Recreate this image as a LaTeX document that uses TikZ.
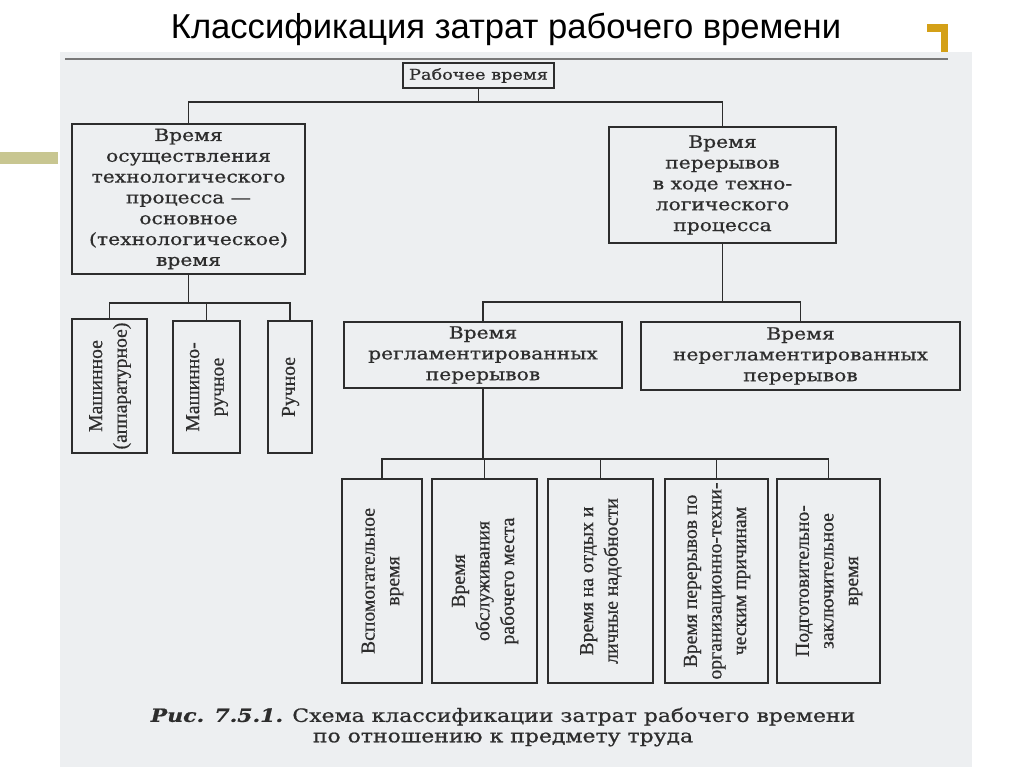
\documentclass[tikz,border=0pt]{standalone}
\usepackage{fontspec}
\usepackage{graphicx}
\setmainfont[FakeBold=0.6]{Liberation Serif}
\newfontfamily\titlefont{Liberation Sans}
\newfontfamily\schemefont[FakeStretch=1.2,FakeBold=0.8]{DejaVu Serif}
\usetikzlibrary{positioning,calc}
\definecolor{paper}{RGB}{237,239,241}
\definecolor{ink}{RGB}{45,45,45}
\definecolor{gold}{RGB}{212,160,23}
\definecolor{khaki}{RGB}{200,198,145}
\definecolor{rulegray}{RGB}{120,120,120}
\tikzset{
  sz/.style 2 args={minimum width=#1*0.025cm,minimum height=#2*0.025cm},
  tree/.style={draw=ink,line width=1.3pt},
  hbox/.style={draw=ink,line width=1.3pt,text=ink,align=center,inner sep=0pt,
    font=\schemefont\fontsize{12}{14.8}\selectfont},
  vbox/.style={draw=ink,line width=1.3pt,text=ink,inner sep=0pt,
    font=\fontsize{14}{17.5}\selectfont},
}
\newcommand{\vtext}[1]{\rotatebox{90}{\begin{tabular}{@{}c@{}}#1\end{tabular}}}

\begin{document}
\begin{tikzpicture}[x=0.025cm,y=-0.025cm]
  \useasboundingbox (0,0) rectangle (1024,767);
  % slide and scanned page
  \fill[white] (0,0) rectangle (1024,767);
  \fill[paper] (60,52) rectangle (972,767);
  \draw[rulegray,line width=1.2pt] (65,59) -- (948,59);
  \fill[gold] (927,24) rectangle (948,32);
  \fill[gold] (941,24) rectangle (948,52);
  \fill[khaki] (0,152) rectangle (58,164);
  \node[font=\titlefont\fontsize{24.6}{28}\selectfont] (title) at (506,29)
    {Классификация затрат рабочего времени};

  % upper levels
  \node[hbox,sz={151}{25},font=\schemefont\fontsize{10.5}{12}\selectfont] (root) at (478.5,75.5) {Рабочее время};
  \node[hbox,sz={233}{150}] (tech) at (188.5,199) {Время\\осуществления\\технологического\\процесса —\\основное\\(технологическое)\\время};
  \node[hbox,sz={227}{116}] (pause) at (722.5,185) {Время\\перерывов\\в ходе техно-\\логического\\процесса};
  \node[hbox,sz={278}{66}] (reg) at (483,355) {Время\\регламентированных\\перерывов};
  \node[hbox,sz={319}{68}] (nonreg) at (800.5,356) {Время\\нерегламентированных\\перерывов};

  % vertical boxes
  \node[vbox,sz={75}{134}] (mach) at (109.5,386) {\vtext{Машинное\\(аппаратурное)}};
  \node[vbox,sz={67}{132}] (machman) at (206.5,387) {\vtext{Машинно-\\ручное}};
  \node[vbox,sz={44}{132}] (man) at (290,387) {\vtext{Ручное}};
  \node[vbox,sz={80}{204}] (aux) at (382,581) {\vtext{Вспомогательное\\время}};
  \node[vbox,sz={105}{204}] (serv) at (484.5,581) {\vtext{Время\\обслуживания\\рабочего места}};
  \node[vbox,sz={105}{204}] (rest) at (600.5,581) {\vtext{Время на отдых и\\личные надобности}};
  \node[vbox,sz={103}{204}] (org) at (716.5,581) {\vtext{Время перерывов по\\организационно-техни-\\ческим причинам}};
  \node[vbox,sz={103}{204}] (prep) at (828.5,581) {\vtext{Подготовительно-\\заключительное\\время}};

  % connectors
  \coordinate (j0) at ($(root.south)+(0,13)$);
  \draw[tree] (root.south) -- (j0);
  \draw[tree] (tech.north) |- (j0) -| (pause.north);
  \coordinate (j1) at ($(tech.south)+(0,28)$);
  \draw[tree] (tech.south) -- (j1);
  \draw[tree] (mach.north) |- (j1) -| (man.north);
  \draw[tree] (machman.north) -- (machman.north |- j1);
  \coordinate (j2) at ($(pause.south)+(0,58)$);
  \draw[tree] (pause.south) -- (j2);
  \draw[tree] (reg.north) |- (j2) -| (nonreg.north);
  \coordinate (j3) at ($(reg.south)+(0,70)$);
  \draw[tree] (reg.south) -- (j3);
  \draw[tree] (aux.north) |- (j3) -| (prep.north);
  \foreach \n in {serv,rest,org}
    \draw[tree] (\n.north) -- (\n.north |- j3);

  % caption
  \node[text=ink,align=center,font=\schemefont\fontsize{13}{14.5}\selectfont] (caption) at (503,727)
    {{\bfseries\itshape Рис. 7.5.1.} Схема классификации затрат рабочего времени\\по отношению к предмету труда};
\end{tikzpicture}
\end{document}
